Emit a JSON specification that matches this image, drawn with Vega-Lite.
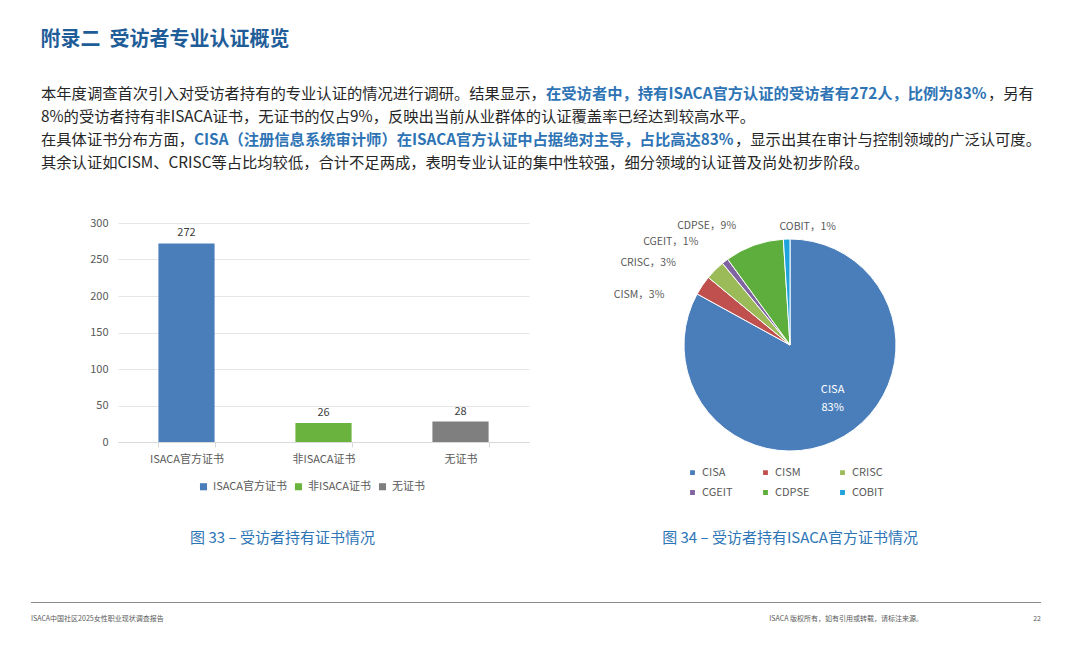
{
  "$schema": "https://vega.github.io/schema/vega-lite/v6.json",
  "background": "white",
  "padding": {"left": 30, "top": 30, "right": 10, "bottom": 0},
  "config": {
    "font": "Noto Sans CJK SC",
    "view": {"stroke": null},
    "axis": {"labelFont": "Noto Sans CJK SC", "labelColor": "#595959", "labelFontSize": 11},
    "legend": {"labelFont": "Noto Sans CJK SC", "labelColor": "#595959", "labelFontSize": 11}
  },
  "title": {
    "text": "附录二\u00a0\u00a0受访者专业认证概览",
    "anchor": "start",
    "dx": 10,
    "fontSize": 20,
    "fontWeight": "bold",
    "color": "#1F5D99",
    "offset": 32
  },
  "resolve": {"scale": {"color": "independent", "x": "independent", "y": "independent"}, "legend": {"color": "independent"}},
  "spacing": 39,
  "vconcat": [
    {
      "width": 923,
      "height": 92,
      "data": {"values": [
        {"行": 1, "段": "1a", "文字": "本年度调查首次引入对受访者持有的专业认证的情况进行调研。结果显示，"},
        {"行": 1, "段": "1b", "文字": "在受访者中，持有ISACA官方认证的受访者有272人，比例为83%"},
        {"行": 1, "段": "1c", "文字": "，另有"},
        {"行": 2, "段": "2a", "文字": "8%的受访者持有非ISACA证书，无证书的仅占9%，反映出当前从业群体的认证覆盖率已经达到较高水平。"},
        {"行": 3, "段": "3a", "文字": "在具体证书分布方面，"},
        {"行": 3, "段": "3b", "文字": "CISA（注册信息系统审计师）在ISACA官方认证中占据绝对主导，占比高达83%"},
        {"行": 3, "段": "3c", "文字": "，显示出其在审计与控制领域的广泛认可度。"},
        {"行": 4, "段": "4a", "文字": "其余认证如CISM、CRISC等占比均较低，合计不足两成，表明专业认证的集中性较强，细分领域的认证普及尚处初步阶段。"}
      ]},
      "encoding": {
        "y": {"field": "行", "type": "ordinal", "scale": {"type": "point", "padding": 0.5}, "axis": null},
        "text": {"field": "文字"}
      },
      "layer": [
        {
          "transform": [{"filter": "test(/a$/, datum['段'])"}],
          "mark": {"type": "text", "align": "left", "baseline": "middle", "fontSize": 15.3, "color": "#262626"},
          "encoding": {"x": {"datum": 40, "type": "quantitative", "scale": {"domain": [117, 1040], "nice": false, "zero": false}, "axis": null}}
        },
        {
          "transform": [{"filter": "datum['段'] == '1b'"}],
          "mark": {"type": "text", "align": "left", "baseline": "middle", "fontSize": 15.3, "fontWeight": "bold", "color": "#2E74B5"},
          "encoding": {"x": {"datum": 545, "type": "quantitative"}}
        },
        {
          "transform": [{"filter": "datum['段'] == '1c'"}],
          "mark": {"type": "text", "align": "left", "baseline": "middle", "fontSize": 15.3, "color": "#262626"},
          "encoding": {"x": {"datum": 987, "type": "quantitative"}}
        },
        {
          "transform": [{"filter": "datum['段'] == '3b'"}],
          "mark": {"type": "text", "align": "left", "baseline": "middle", "fontSize": 15.3, "fontWeight": "bold", "color": "#2E74B5"},
          "encoding": {"x": {"datum": 193, "type": "quantitative"}}
        },
        {
          "transform": [{"filter": "datum['段'] == '3c'"}],
          "mark": {"type": "text", "align": "left", "baseline": "middle", "fontSize": 15.3, "color": "#262626"},
          "encoding": {"x": {"datum": 734, "type": "quantitative"}}
        }
      ]
    },
    {
      "resolve": {"scale": {"color": "independent"}, "legend": {"color": "independent"}},
      "spacing": 84,
      "hconcat": [
        {
          "width": 411,
          "height": 219,
          "data": {"values": [
            {"类别": "ISACA官方证书", "人数": 272},
            {"类别": "非ISACA证书", "人数": 26},
            {"类别": "无证书", "人数": 28}
          ]},
          "title": {"text": "图 33 – 受访者持有证书情况", "orient": "bottom", "dx": -41, "fontSize": 15, "fontWeight": "normal", "color": "#2E75B6", "offset": 39},
          "encoding": {
            "x": {
              "field": "类别", "type": "nominal", "sort": null,
              "scale": {"paddingInner": 0.59, "paddingOuter": 0.295},
              "axis": {"title": null, "labelAngle": 0, "domainColor": "#d9d9d9", "tickColor": "#d9d9d9", "tickBand": "extent", "tickSize": 5, "labelPadding": 6}
            },
            "y": {
              "field": "人数", "type": "quantitative",
              "scale": {"domain": [0, 300]},
              "axis": {"title": null, "values": [0, 50, 100, 150, 200, 250, 300], "domain": false, "ticks": false, "gridColor": "#e6e6e6", "labelPadding": 10}
            }
          },
          "layer": [
            {
              "mark": {"type": "bar"},
              "encoding": {
                "color": {
                  "field": "类别", "type": "nominal", "sort": null,
                  "scale": {"range": ["#4A7EBB", "#6BB33F", "#7F7F7F"]},
                  "legend": {"orient": "none", "legendX": 80, "legendY": 258, "title": null, "direction": "horizontal", "symbolType": "square", "symbolSize": 50, "columnPadding": 5}
                }
              }
            },
            {
              "mark": {"type": "text", "baseline": "bottom", "dy": -5, "fontSize": 11, "color": "#404040"},
              "encoding": {"text": {"field": "人数", "type": "quantitative"}}
            }
          ]
        },
        {
          "width": 260,
          "height": 244,
          "data": {"values": [
            {"序号": 1, "证书": "CISA", "占比": 0.83, "标签": "CISA，83%"},
            {"序号": 2, "证书": "CISM", "占比": 0.03, "标签": "CISM，3%"},
            {"序号": 3, "证书": "CRISC", "占比": 0.03, "标签": "CRISC，3%"},
            {"序号": 4, "证书": "CGEIT", "占比": 0.01, "标签": "CGEIT，1%"},
            {"序号": 5, "证书": "CDPSE", "占比": 0.09, "标签": "CDPSE，9%"},
            {"序号": 6, "证书": "COBIT", "占比": 0.01, "标签": "COBIT，1%"}
          ]},
          "title": {"text": "图 34 – 受访者持有ISACA官方证书情况", "orient": "bottom", "fontSize": 15, "fontWeight": "normal", "color": "#2E75B6", "offset": 32},
          "encoding": {
            "theta": {"field": "占比", "type": "quantitative", "stack": true},
            "order": {"field": "序号", "type": "quantitative"}
          },
          "layer": [
            {
              "mark": {"type": "arc", "outerRadius": 106, "stroke": "white", "strokeWidth": 1},
              "encoding": {
                "color": {
                  "field": "证书", "type": "nominal", "sort": null,
                  "scale": {"range": ["#4A7EBB", "#C0504D", "#9BBB59", "#8064A2", "#5DAE3C", "#1FA3DC"]},
                  "legend": {"orient": "none", "legendX": 27, "legendY": 244, "title": null, "direction": "horizontal", "columns": 3, "symbolType": "square", "symbolSize": 40, "columnPadding": 26, "rowPadding": 7}
                }
              }
            },
            {
              "mark": {"type": "text", "radius": 68, "dx": 8, "dy": -14, "fontSize": 11, "color": "white"},
              "encoding": {"text": {"condition": {"test": "datum['证书'] == 'CISA'", "field": "证书"}, "value": ""}}
            },
            {
              "mark": {"type": "text", "radius": 68, "dx": 8, "dy": 4, "fontSize": 11, "color": "white"},
              "encoding": {"text": {"condition": {"test": "datum['证书'] == 'CISA'", "field": "占比", "format": ".0%"}, "value": ""}}
            },
            {
              "mark": {"type": "text", "radius": 112, "dx": -33, "dy": 13, "align": "right", "baseline": "middle", "fontSize": 10.5, "color": "#595959"},
              "encoding": {"text": {"condition": {"test": "datum['证书'] == 'CISM'", "field": "标签"}, "value": ""}}
            },
            {
              "mark": {"type": "text", "radius": 112, "dx": -35, "dy": -3, "align": "right", "baseline": "middle", "fontSize": 10.5, "color": "#595959"},
              "encoding": {"text": {"condition": {"test": "datum['证书'] == 'CRISC'", "field": "标签"}, "value": ""}}
            },
            {
              "mark": {"type": "text", "radius": 112, "dx": -23, "dy": -15, "align": "right", "baseline": "middle", "fontSize": 10.5, "color": "#595959"},
              "encoding": {"text": {"condition": {"test": "datum['证书'] == 'CGEIT'", "field": "标签"}, "value": ""}}
            },
            {
              "mark": {"type": "text", "radius": 112, "dx": -16, "dy": -14, "align": "right", "baseline": "middle", "fontSize": 10.5, "color": "#595959"},
              "encoding": {"text": {"condition": {"test": "datum['证书'] == 'CDPSE'", "field": "标签"}, "value": ""}}
            },
            {
              "mark": {"type": "text", "radius": 112, "dx": -7, "dy": -6, "align": "left", "baseline": "middle", "fontSize": 10.5, "color": "#595959"},
              "encoding": {"text": {"condition": {"test": "datum['证书'] == 'COBIT'", "field": "标签"}, "value": ""}}
            }
          ]
        }
      ]
    },
    {
      "width": 923,
      "height": 44,
      "data": {"values": [
        {"位置": "左", "文字": "ISACA中国社区2025女性职业现状调查报告"},
        {"位置": "中", "文字": "ISACA 版权所有，如有引用或转载，请标注来源。"},
        {"位置": "右", "文字": "22"}
      ]},
      "layer": [
        {
          "mark": {"type": "rule", "color": "#8c8c8c", "strokeWidth": 1},
          "encoding": {
            "x": {"datum": 30, "type": "quantitative", "scale": {"domain": [117, 1040], "nice": false, "zero": false}, "axis": null},
            "x2": {"datum": 1040},
            "y": {"datum": 17.5, "type": "quantitative", "scale": {"domain": [0, 44], "reverse": true, "nice": false}, "axis": null}
          }
        },
        {
          "transform": [{"filter": "datum['位置'] == '左'"}],
          "mark": {"type": "text", "align": "left", "baseline": "middle", "fontSize": 7, "color": "#595959"},
          "encoding": {"x": {"datum": 30, "type": "quantitative"}, "y": {"datum": 33.5, "type": "quantitative"}, "text": {"field": "文字"}}
        },
        {
          "transform": [{"filter": "datum['位置'] == '中'"}],
          "mark": {"type": "text", "align": "right", "baseline": "middle", "fontSize": 7, "color": "#595959"},
          "encoding": {"x": {"datum": 922, "type": "quantitative"}, "y": {"datum": 33.5, "type": "quantitative"}, "text": {"field": "文字"}}
        },
        {
          "transform": [{"filter": "datum['位置'] == '右'"}],
          "mark": {"type": "text", "align": "right", "baseline": "middle", "fontSize": 7, "color": "#595959"},
          "encoding": {"x": {"datum": 1040, "type": "quantitative"}, "y": {"datum": 33.5, "type": "quantitative"}, "text": {"field": "文字"}}
        }
      ]
    }
  ]
}
